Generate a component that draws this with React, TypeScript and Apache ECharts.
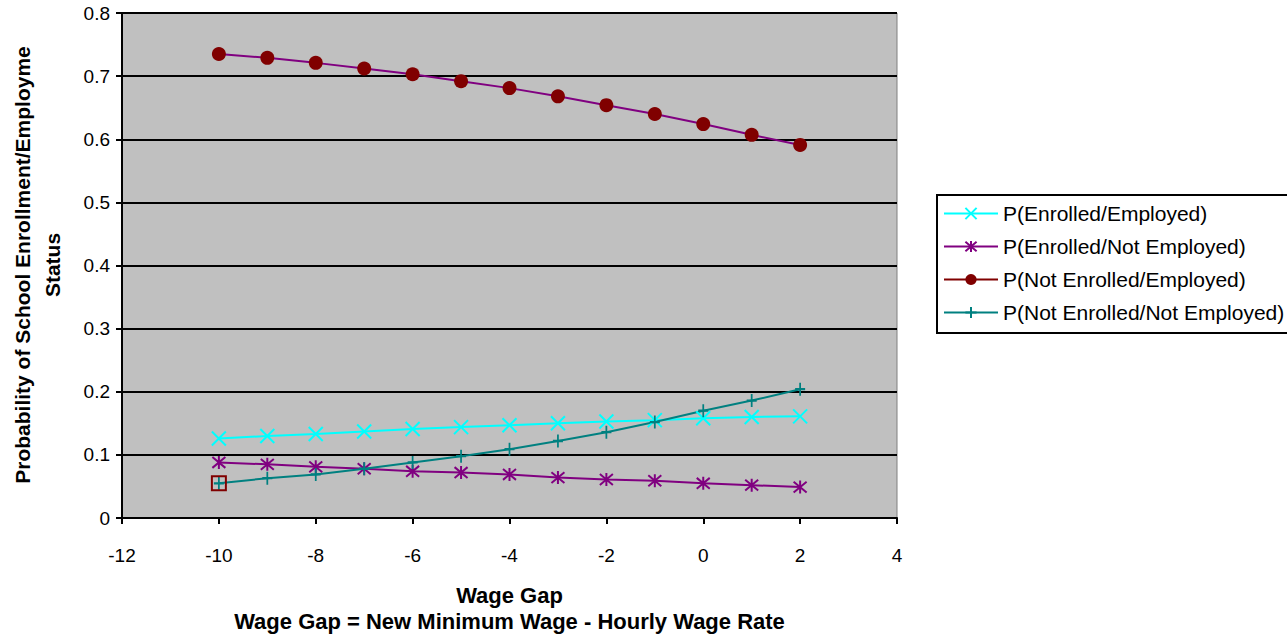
import React, { useEffect, useRef } from "react";
import * as echarts from "echarts";

const wageGap = [-10, -9, -8, -7, -6, -5, -4, -3, -2, -1, 0, 1, 2];
const enrolledEmployed = [0.126, 0.130, 0.133, 0.137, 0.141, 0.144, 0.147, 0.150, 0.153, 0.155, 0.158, 0.160, 0.161];
const enrolledNotEmployed = [0.088, 0.085, 0.081, 0.078, 0.074, 0.072, 0.069, 0.064, 0.061, 0.059, 0.055, 0.052, 0.049];
const notEnrolledEmployed = [0.735, 0.729, 0.721, 0.712, 0.703, 0.692, 0.681, 0.668, 0.654, 0.640, 0.624, 0.607, 0.591];
const notEnrolledNotEmployed = [0.055, 0.063, 0.069, 0.078, 0.088, 0.098, 0.109, 0.122, 0.136, 0.152, 0.170, 0.186, 0.204];
const seriesNames = [
  "P(Enrolled/Employed)",
  "P(Enrolled/Not Employed)",
  "P(Not Enrolled/Employed)",
  "P(Not Enrolled/Not Employed)",
];
const yTitle1 = "Probability of School Enrollment/Employme";
const yTitle2 = "Status";
const xTitle = "Wage Gap\nWage Gap = New Minimum Wage - Hourly Wage Rate";

const FONT = "'Liberation Sans', Arial, sans-serif";

const pairs = (ys: number[]) => wageGap.map((x, i) => [x, ys[i]]);

export default function App() {
  const ref = useRef<HTMLDivElement>(null);
  useEffect(() => {
    if (!ref.current) return;
    const chart = echarts.init(ref.current, undefined, { renderer: "svg" });
    const xSym = "path://M0,0L10,10M10,0L0,10";
    const starSym = "path://M0,0L10,10M10,0L0,10M5,-1L5,11";
    const plusSym = "path://M5,0L5,12M1,6L9,6";
    chart.setOption({
      animation: false,
      backgroundColor: "#ffffff",
      textStyle: { fontFamily: FONT },
      grid: {
        left: 122,
        top: 13,
        right: 390,
        bottom: 122,
        show: true,
        backgroundColor: "#C0C0C0",
        borderColor: "#808080",
        borderWidth: 1,
      },
      legend: {
        orient: "vertical",
        left: 937,
        top: 195,
        padding: [8, 10, 8, 6],
        itemGap: 12,
        itemWidth: 54,
        itemHeight: 14,
        borderWidth: 0,
        backgroundColor: "transparent",
        z: 5,
        textStyle: { fontFamily: FONT, fontSize: 21, color: "#000", lineHeight: 21 },
        data: [
          { name: seriesNames[0] },
          { name: seriesNames[1] },
          { name: seriesNames[2], lineStyle: { color: "#800000" } },
          { name: seriesNames[3] },
        ],
      },
      xAxis: {
        type: "value",
        min: -12,
        max: 4,
        interval: 2,
        name: xTitle,
        nameLocation: "middle",
        nameGap: 64,
        nameTextStyle: { fontFamily: FONT, fontSize: 22, fontWeight: "bold", color: "#000", lineHeight: 26 },
        axisLine: { show: true, onZero: false, lineStyle: { color: "#000", width: 2 } },
        axisTick: { show: true, length: 6, lineStyle: { color: "#000", width: 2 } },
        axisLabel: { fontFamily: FONT, fontSize: 19, color: "#000", margin: 28 },
        splitLine: { show: false },
      },
      yAxis: {
        type: "value",
        min: 0,
        max: 0.8,
        interval: 0.1,
        axisLine: { show: true, onZero: false, lineStyle: { color: "#000", width: 2 } },
        axisTick: { show: true, length: 6, lineStyle: { color: "#000", width: 2 } },
        axisLabel: { fontFamily: FONT, fontSize: 19, color: "#000", margin: 12 },
        splitLine: { show: true, lineStyle: { color: "#000", width: 2 } },
      },
      graphic: [
        {
          type: "rect",
          z: 1,
          shape: { x: 937, y: 195, width: 400, height: 138 },
          style: { fill: "#ffffff", stroke: "#000000", lineWidth: 2 },
        },
        {
          type: "text",
          x: 37,
          y: 265,
          rotation: Math.PI / 2,
          style: {
            text: yTitle1 + "\n" + yTitle2,
            align: "center",
            verticalAlign: "middle",
            font: "bold 21px " + FONT,
            lineHeight: 30,
            fill: "#000",
          },
        },
      ],
      series: [
        {
          name: seriesNames[0],
          type: "line",
          data: pairs(enrolledEmployed),
          symbol: xSym,
          symbolSize: 14,
          lineStyle: { color: "#00FFFF", width: 2 },
          itemStyle: { color: "#00FFFF", borderColor: "#00FFFF", borderWidth: 2 },
          z: 3,
        },
        {
          name: seriesNames[1],
          type: "line",
          data: pairs(enrolledNotEmployed),
          symbol: starSym,
          symbolSize: 13,
          lineStyle: { color: "#800080", width: 2 },
          itemStyle: { color: "#800080", borderColor: "#800080", borderWidth: 2 },
          z: 3,
        },
        {
          name: seriesNames[2],
          type: "line",
          data: pairs(notEnrolledEmployed),
          symbol: "circle",
          symbolSize: 14,
          lineStyle: { color: "#800080", width: 2 },
          itemStyle: { color: "#800000", borderColor: "#800000", borderWidth: 0 },
          z: 3,
        },
        {
          name: seriesNames[3],
          type: "line",
          data: pairs(notEnrolledNotEmployed),
          symbol: plusSym,
          symbolSize: [10, 13],
          lineStyle: { color: "#008080", width: 2 },
          itemStyle: { color: "#008080", borderColor: "#008080", borderWidth: 2 },
          z: 3,
        },
        {
          name: "firstPointMarker",
          type: "line",
          data: [[wageGap[0], notEnrolledNotEmployed[0]]],
          symbol: "rect",
          symbolSize: 14,
          lineStyle: { width: 0 },
          itemStyle: { color: "rgba(0,0,0,0)", borderColor: "#800000", borderWidth: 2 },
          z: 4,
        },
      ],
    });
    return () => chart.dispose();
  }, []);
  return (
    <div
      ref={ref}
      style={{ position: "fixed", left: 0, top: 0, width: 1287, height: 640, background: "#fff" }}
    />
  );
}
